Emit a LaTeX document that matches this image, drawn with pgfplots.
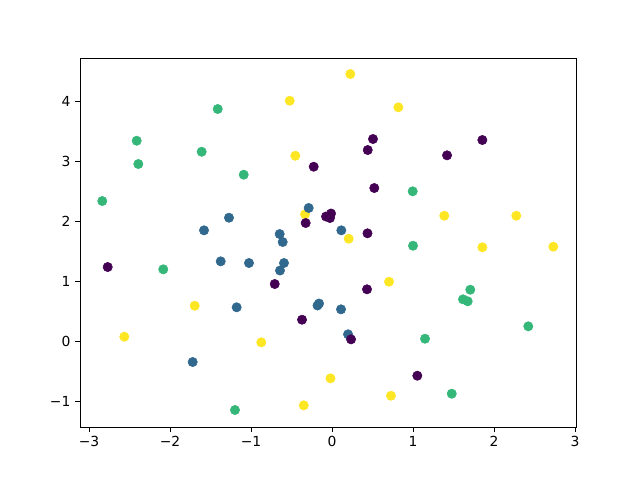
\documentclass[border=0pt]{standalone}
\usepackage{pgfplots}
\pgfplotsset{compat=1.18}
\usepackage{fontspec}
\setmainfont{DejaVu Sans}
\definecolor{vpurple}{HTML}{440154}
\definecolor{vblue}{HTML}{31688E}
\definecolor{vgreen}{HTML}{35B779}
\definecolor{vyellow}{HTML}{FDE725}
\begin{document}
\begin{tikzpicture}[x=1pt,y=1pt]
\useasboundingbox (0,0) rectangle (480,360);
\begin{axis}[
  at={(60pt,39.75pt)}, anchor=south west,
  scale only axis, width=372pt, height=276.75pt,
  xmin=-3.111, xmax=3.012, ymin=-1.433, ymax=4.717,
  xtick={-3,-2,-1,0,1,2,3},
  xticklabels={−3,−2,−1,0,1,2,3},
  ytick={-1,0,1,2,3,4},
  yticklabels={−1,0,1,2,3,4},
  tick align=outside, tick pos=left,
  major tick length=3.65pt,
  every tick/.style={black, line width=0.6pt},
  axis line style={line width=0.6pt},
  tick label style={font=\fontsize{10.4}{12}\selectfont},
  scatter/classes={
    y={mark=*, fill=vyellow, draw=vyellow},
    b={mark=*, fill=vblue, draw=vblue},
    g={mark=*, fill=vgreen, draw=vgreen},
    p={mark=*, fill=vpurple, draw=vpurple}},
]
\addplot[scatter, only marks, mark size=3.5pt, scatter src=explicit symbolic]
table[meta=c] {
x y c
-2.564 0.072 y
-1.695 0.588 y
-0.873 -0.022 y
-0.522 4.005 y
-0.453 3.088 y
-0.349 -1.072 y
-0.333 2.112 y
-0.019 -0.622 y
0.206 1.705 y
0.226 4.450 y
0.704 0.988 y
0.728 -0.912 y
0.819 3.895 y
1.386 2.088 y
1.856 1.562 y
2.275 2.088 y
2.732 1.572 y
-1.720 -0.350 b
-1.580 1.845 b
-1.374 1.328 b
-1.272 2.055 b
-1.177 0.562 b
-1.025 1.300 b
-0.646 1.783 b
-0.609 1.650 b
-0.593 1.300 b
-0.642 1.175 b
-0.288 2.217 b
-0.179 0.592 b
-0.160 0.625 b
0.115 1.845 b
0.111 0.528 b
0.198 0.112 b
-2.836 2.333 g
-2.411 3.338 g
-2.391 2.950 g
-2.083 1.195 g
-1.609 3.155 g
-1.411 3.867 g
-1.198 -1.150 g
-1.090 2.772 g
0.996 2.495 g
1.000 1.588 g
1.148 0.038 g
1.478 -0.878 g
1.617 0.695 g
1.675 0.662 g
1.707 0.855 g
2.423 0.245 g
-2.769 1.233 p
-0.707 0.950 p
-0.370 0.355 p
-0.325 1.967 p
-0.226 2.905 p
-0.074 2.075 p
-0.012 2.125 p
-0.025 2.050 p
0.235 0.028 p
0.441 3.183 p
0.506 3.367 p
0.522 2.550 p
0.438 1.795 p
0.432 0.862 p
1.053 -0.578 p
1.420 3.095 p
1.856 3.350 p
};
\end{axis}
\end{tikzpicture}
\end{document}
